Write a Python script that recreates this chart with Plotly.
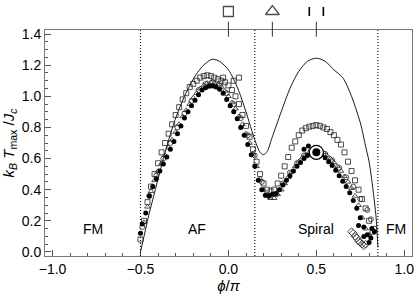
import plotly.graph_objects as go

# theoretical curve
curve_x = [-0.50, -0.48, -0.45, -0.42, -0.40, -0.35, -0.30, -0.25, -0.20, -0.15, -0.10, -0.08,
           -0.05, 0.00, 0.05, 0.10, 0.15, 0.18, 0.20, 0.22, 0.25, 0.30, 0.35, 0.40, 0.45, 0.50,
           0.55, 0.60, 0.65, 0.70, 0.75, 0.78, 0.80, 0.82, 0.84, 0.85]
curve_y = [0.00, 0.10, 0.25, 0.38, 0.47, 0.68, 0.86, 1.00, 1.11, 1.19, 1.235, 1.237,
           1.225, 1.17, 1.06, 0.90, 0.72, 0.64, 0.625, 0.645, 0.74, 0.90, 1.05, 1.16, 1.225, 1.245,
           1.225, 1.17, 1.12, 1.00, 0.83, 0.68, 0.58, 0.42, 0.22, 0.03]

# filled circles
fc_x = [-0.50, -0.49, -0.47, -0.45, -0.43, -0.41, -0.39, -0.37, -0.35, -0.33, -0.31, -0.29, -0.27,
        -0.25, -0.23, -0.21, -0.19, -0.17, -0.15, -0.13, -0.11, -0.09, -0.07, -0.05, -0.03, -0.01,
        0.01, 0.03, 0.05, 0.07, 0.09, 0.11, 0.13, 0.15, 0.17, 0.19, 0.21, 0.23, 0.25, 0.27, 0.29,
        0.31, 0.33, 0.35, 0.37, 0.39, 0.41, 0.43, 0.45, 0.47, 0.49, 0.51, 0.53, 0.55, 0.57, 0.59,
        0.61, 0.63, 0.65, 0.67, 0.69, 0.71, 0.73, 0.75, 0.77, 0.79, 0.81,
        0.455, 0.43, 0.74, 0.77, 0.80, 0.83, 0.816]
fc_y = [0.12, 0.18, 0.25, 0.36, 0.42, 0.47, 0.52, 0.565, 0.61, 0.66, 0.71, 0.76, 0.81,
        0.86, 0.90, 0.94, 0.975, 1.01, 1.04, 1.055, 1.065, 1.066, 1.06, 1.045, 1.02, 0.98,
        0.94, 0.90, 0.855, 0.80, 0.75, 0.69, 0.625, 0.55, 0.46, 0.40, 0.365, 0.36, 0.37, 0.375, 0.40,
        0.43, 0.46, 0.49, 0.52, 0.55, 0.575, 0.60, 0.62, 0.635, 0.645, 0.64, 0.625, 0.605, 0.58, 0.555,
        0.525, 0.49, 0.455, 0.42, 0.38, 0.33, 0.28, 0.22, 0.16, 0.11, 0.09,
        0.68, 0.66, 0.17, 0.10, 0.06, 0.13, 0.15]

# open squares
sq_x = [-0.50, -0.48, -0.46, -0.44, -0.42, -0.40, -0.38, -0.36, -0.34, -0.32, -0.30, -0.28, -0.26,
        -0.24, -0.22, -0.20, -0.18, -0.16, -0.14, -0.12, -0.10, -0.08, -0.06, -0.04, -0.02, 0.00,
        0.02, 0.04, 0.06, 0.08, 0.10, 0.12, 0.14, 0.16, 0.18, 0.20, 0.22, 0.24, 0.26, 0.28, 0.30,
        0.32, 0.34, 0.36, 0.38, 0.40, 0.42, 0.44, 0.46, 0.48, 0.50, 0.52, 0.54, 0.56, 0.58, 0.60,
        0.62, 0.64, 0.66, 0.68, 0.70, 0.72, 0.74, 0.76, 0.78, 0.80, 0.82,
        0.06, 0.03, -0.03]
sq_y = [0.08, 0.20, 0.32, 0.42, 0.50, 0.57, 0.64, 0.70, 0.76, 0.82, 0.88, 0.93, 0.98,
        1.02, 1.06, 1.08, 1.10, 1.12, 1.13, 1.135, 1.13, 1.12, 1.11, 1.10, 1.09, 1.07,
        1.04, 1.00, 0.95, 0.88, 0.81, 0.74, 0.66, 0.58, 0.50, 0.44, 0.40, 0.39, 0.40, 0.44, 0.49,
        0.55, 0.61, 0.67, 0.71, 0.75, 0.78, 0.795, 0.805, 0.81, 0.815, 0.81, 0.80, 0.79, 0.77, 0.75,
        0.72, 0.69, 0.64, 0.58, 0.52, 0.46, 0.40, 0.34, 0.28, 0.20, 0.13,
        1.12, 1.10, 1.12]

# open triangles
tr_x = [-0.48, -0.46, -0.44, -0.42, -0.40, -0.38, -0.36, -0.34, -0.32, -0.30, -0.28, -0.26, -0.24,
        -0.22, -0.20, -0.18, -0.16, -0.14, -0.12, -0.10, -0.08, -0.06, -0.04, -0.02, 0.00, 0.02,
        0.04, 0.06, 0.08, 0.10, 0.12, 0.14, 0.16, 0.18, 0.20, 0.22, 0.24, 0.26, 0.28, 0.30, 0.32,
        0.34, 0.36, 0.38, 0.40, 0.42, 0.44, 0.46, 0.48, 0.50, 0.52, 0.54, 0.56, 0.58, 0.60, 0.62,
        0.64, 0.66, 0.68, 0.70, 0.72, 0.74, 0.76, 0.78, 0.80]
tr_y = [0.19, 0.29, 0.39, 0.46, 0.52, 0.57, 0.62, 0.67, 0.72, 0.77, 0.82, 0.87, 0.91,
        0.95, 0.99, 1.02, 1.05, 1.07, 1.085, 1.09, 1.085, 1.075, 1.06, 1.035, 1.00, 0.96,
        0.92, 0.87, 0.82, 0.76, 0.70, 0.63, 0.55, 0.47, 0.40, 0.36, 0.345, 0.345, 0.37, 0.40, 0.44,
        0.48, 0.515, 0.55, 0.58, 0.605, 0.625, 0.64, 0.65, 0.655, 0.65, 0.64, 0.62, 0.60, 0.575, 0.55,
        0.52, 0.485, 0.45, 0.41, 0.36, 0.30, 0.22, 0.15, 0.11]

# open circles
oc_x = [-0.49, -0.45, -0.41, -0.37, -0.33, -0.29, -0.25, -0.21, -0.17, -0.13, -0.09, -0.05, -0.01,
        0.03, 0.07, 0.11, 0.15, 0.19, 0.23, 0.27, 0.31, 0.35, 0.39, 0.43, 0.47, 0.51, 0.55, 0.59,
        0.63, 0.67, 0.71, 0.75, 0.79, 0.81, 0.83]
oc_y = [0.16, 0.36, 0.49, 0.60, 0.70, 0.80, 0.89, 0.97, 1.04, 1.08, 1.09, 1.07, 1.02,
        0.95, 0.86, 0.75, 0.62, 0.45, 0.36, 0.37, 0.44, 0.51, 0.57, 0.62, 0.65, 0.655, 0.63, 0.59,
        0.54, 0.48, 0.42, 0.34, 0.27, 0.21, 0.15]

# open diamonds
dm_x = [0.70, 0.71, 0.72, 0.73, 0.74, 0.75, 0.76, 0.77, 0.78]
dm_y = [0.13, 0.12, 0.10, 0.09, 0.07, 0.06, 0.05, 0.04, 0.05]

# highlighted point
hl_x = [0.5]
hl_y = [0.64]

# phase boundaries and labels
bound_x = [-0.5, 0.15, 0.85]
phase_labels = ["FM", "AF", "Spiral", "FM"]
phase_x = [-0.77, -0.18, 0.5, 0.955]
phase_y = [0.15, 0.15, 0.15, 0.15]

# top markers
top_x = [0.0, 0.25, 0.5]
top_symbols = ["square-open", "triangle-up-open"]

FONT = "Liberation Sans, Arial, sans-serif"
H_PLOT = 256.0           # paper height in px (margin t=0, b=39)
TOP = 30.0               # px from top where main frame begins
MAIN_TOP = 1 - TOP / H_PLOT


def paper_y(px):
    return (H_PLOT - px) / H_PLOT


fig = go.Figure()

fig.add_trace(go.Scatter(x=curve_x, y=curve_y, mode="lines",
                         line=dict(color="black", width=0.9, shape="spline", smoothing=0.8), hoverinfo="skip"))

mk_line = dict(color="#222", width=0.8)
fig.add_trace(go.Scatter(x=sq_x, y=sq_y, mode="markers", marker=dict(symbol="square-open", size=5, line=mk_line, color="#222")))
fig.add_trace(go.Scatter(x=tr_x, y=tr_y, mode="markers", marker=dict(symbol="triangle-up-open", size=5, line=mk_line, color="#222")))
fig.add_trace(go.Scatter(x=oc_x, y=oc_y, mode="markers", marker=dict(symbol="circle-open", size=5, line=mk_line, color="#222")))
fig.add_trace(go.Scatter(x=dm_x, y=dm_y, mode="markers", marker=dict(symbol="diamond-open", size=6, line=mk_line, color="#222")))
fig.add_trace(go.Scatter(x=fc_x, y=fc_y, mode="markers", marker=dict(symbol="circle", size=5, color="black", line=dict(width=0))))
fig.add_trace(go.Scatter(x=hl_x, y=hl_y, mode="markers", marker=dict(symbol="circle", size=14, color="white", line=dict(color="black", width=1.2))))
fig.add_trace(go.Scatter(x=hl_x, y=hl_y, mode="markers", marker=dict(symbol="circle", size=8, color="black")))

# top symbols on a small axis living in the top strip (px 0..30); centre at px 11.5
fig.add_trace(go.Scatter(x=top_x[:2], y=[0.5, 0.5], yaxis="y2", mode="markers", cliponaxis=False,
                         marker=dict(symbol=top_symbols, size=[10, 12], color="black",
                                     line=dict(color="black", width=1.3))))

shapes = []
for bx in bound_x:
    shapes.append(dict(type="line", xref="x", yref="paper", x0=bx, x1=bx, y0=0, y1=MAIN_TOP,
                       line=dict(color="black", width=1.1, dash="1px,2px")))
for tx in top_x:
    shapes.append(dict(type="line", xref="x", yref="paper", x0=tx, x1=tx, y0=paper_y(36.7), y1=paper_y(21.7),
                       line=dict(color="#333", width=1)))
for off in (-0.04, 0.04):
    shapes.append(dict(type="line", xref="x", yref="paper", x0=top_x[2] + off, x1=top_x[2] + off,
                       y0=paper_y(16), y1=paper_y(7), line=dict(color="black", width=1.6)))

annotations = [dict(x=px, y=py, text=t, showarrow=False, xref="x", yref="y",
                    font=dict(family=FONT, size=14, color="black"))
               for t, px, py in zip(phase_labels, phase_x, phase_y)]

axis_common = dict(showline=True, linecolor="#777", linewidth=1, mirror=True, ticks="inside",
                   ticklen=6, tickcolor="#555", showgrid=False, zeroline=False, automargin=False,
                   tickfont=dict(family=FONT, size=14, color="black"))

fig.update_layout(
    width=415, height=295, margin=dict(l=45, r=3, t=0, b=39, autoexpand=False),
    plot_bgcolor="white", paper_bgcolor="white", showlegend=False,
    shapes=shapes, annotations=annotations,
    xaxis=dict(range=[-1.043, 1.044], tickvals=[-1.0, -0.5, 0.0, 0.5, 1.0],
               ticktext=["\u22121.0", "\u22120.5", "0.0", "0.5", "1.0"],
               minor=dict(dtick=0.1, tick0=0, ticks="inside", ticklen=3, tickcolor="#555"),
               title=dict(text="<i>\u03d5</i>/<i>\u03c0</i>", font=dict(family=FONT, size=15, color="black"), standoff=4),
               **axis_common),
    yaxis=dict(domain=[0, MAIN_TOP], range=[-0.026, 1.426], tickvals=[0.0, 0.2, 0.4, 0.6, 0.8, 1.0, 1.2, 1.4],
               tickformat=".1f",
               minor=dict(dtick=0.05, tick0=0, ticks="inside", ticklen=3, tickcolor="#555"),
               title=dict(text="<i>k</i><sub><i>B</i></sub> <i>T</i><sub>max</sub> /<i>J</i><sub><i>c</i></sub>",
                          font=dict(family=FONT, size=15, color="black"), standoff=4),
               **axis_common),
    yaxis2=dict(domain=[MAIN_TOP, 1], range=[0.5 - (TOP - 11.5) / TOP, 0.5 + 11.5 / TOP],
                visible=False, anchor="x", fixedrange=True, automargin=False),
)

fig.write_html("out.html", config={"displayModeBar": False},
               post_script="document.body.style.margin='0';")
